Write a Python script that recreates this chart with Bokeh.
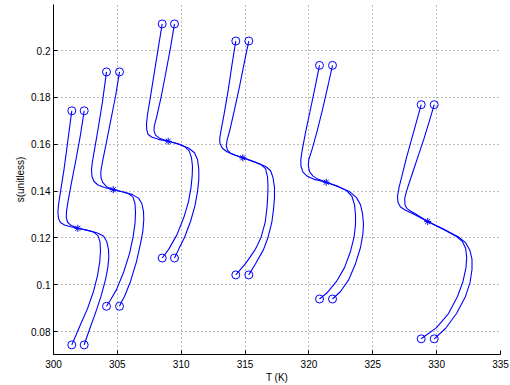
from bokeh.plotting import figure
from bokeh.models import FixedTicker, Range1d
from bokeh.embed import file_html
from bokeh.resources import INLINE

# ---- data (T in K, s unitless) ----
t1a = [301.433, 301.135, 300.822, 300.548, 300.392, 300.345, 300.392, 300.548, 300.861, 301.331, 301.903, 302.584, 303.132, 303.484, 303.641, 303.680, 303.625, 303.445, 303.132, 302.662, 302.114, 301.683, 301.433]
s1a = [0.1743, 0.1620, 0.1492, 0.1398, 0.1342, 0.1308, 0.1283, 0.1266, 0.1255, 0.1248, 0.1241, 0.1234, 0.1225, 0.1210, 0.1184, 0.1146, 0.1099, 0.1039, 0.0971, 0.0898, 0.0830, 0.0775, 0.0743]
t1b = [302.404, 302.114, 301.762, 301.409, 301.135, 301.018, 301.002, 301.096, 301.331, 301.903, 302.741, 303.445, 303.915, 304.173, 304.307, 304.330, 304.252, 304.072, 303.719, 303.289, 302.819, 302.545, 302.404]
s1b = [0.1743, 0.1641, 0.1535, 0.1436, 0.1355, 0.1313, 0.1287, 0.1268, 0.1255, 0.1241, 0.1231, 0.1221, 0.1208, 0.1184, 0.1150, 0.1116, 0.1073, 0.1022, 0.0950, 0.0880, 0.0809, 0.0766, 0.0743]

t2a = [304.150, 303.837, 303.484, 303.210, 303.038, 302.975, 303.015, 303.171, 303.484, 303.993, 304.675, 305.324, 305.873, 306.225, 306.381, 306.421, 306.381, 306.225, 305.951, 305.481, 304.933, 304.463, 304.150]
s2a = [0.1909, 0.1782, 0.1663, 0.1577, 0.1522, 0.1492, 0.1462, 0.1441, 0.1426, 0.1415, 0.1406, 0.1398, 0.1389, 0.1374, 0.1347, 0.1308, 0.1261, 0.1202, 0.1133, 0.1052, 0.0979, 0.0935, 0.0908]
t2b = [305.168, 304.855, 304.463, 304.111, 303.837, 303.704, 303.719, 303.837, 304.150, 304.675, 305.481, 306.186, 306.656, 306.914, 307.047, 307.070, 306.992, 306.812, 306.499, 306.029, 305.559, 305.324, 305.168]
s2b = [0.1909, 0.1804, 0.1697, 0.1599, 0.1526, 0.1483, 0.1458, 0.1438, 0.1419, 0.1406, 0.1396, 0.1385, 0.1370, 0.1347, 0.1313, 0.1278, 0.1227, 0.1176, 0.1099, 0.1014, 0.0950, 0.0926, 0.0908]

t3a = [308.511, 308.182, 307.830, 307.556, 307.360, 307.282, 307.298, 307.399, 307.673, 308.222, 308.981, 309.709, 310.257, 310.610, 310.805, 310.884, 310.860, 310.766, 310.571, 310.202, 309.670, 309.005, 308.511]
s3a = [0.2114, 0.2004, 0.1885, 0.1791, 0.1727, 0.1688, 0.1663, 0.1643, 0.1631, 0.1621, 0.1613, 0.1603, 0.1590, 0.1573, 0.1543, 0.1505, 0.1466, 0.1415, 0.1355, 0.1287, 0.1214, 0.1150, 0.1114]
t3b = [309.474, 309.161, 308.770, 308.417, 308.065, 307.893, 307.869, 307.987, 308.300, 308.981, 309.866, 310.571, 311.040, 311.275, 311.377, 311.377, 311.275, 311.079, 310.727, 310.257, 309.788, 309.474]
s3b = [0.2114, 0.2013, 0.1898, 0.1799, 0.1714, 0.1680, 0.1658, 0.1639, 0.1626, 0.1613, 0.1599, 0.1584, 0.1564, 0.1535, 0.1492, 0.1449, 0.1398, 0.1338, 0.1270, 0.1202, 0.1150, 0.1114]

t4a = [314.274, 313.977, 313.663, 313.350, 313.115, 313.013, 313.037, 313.209, 313.546, 314.117, 314.822, 315.582, 316.208, 316.600, 316.756, 316.795, 316.780, 316.717, 316.576, 316.247, 315.793, 315.034, 314.274]
s4a = [0.2041, 0.1940, 0.1825, 0.1727, 0.1658, 0.1624, 0.1603, 0.1584, 0.1569, 0.1555, 0.1542, 0.1528, 0.1515, 0.1496, 0.1462, 0.1424, 0.1385, 0.1330, 0.1266, 0.1202, 0.1150, 0.1090, 0.1042]
t4b = [315.292, 314.955, 314.564, 314.172, 313.820, 313.585, 313.530, 313.624, 313.859, 314.251, 314.822, 315.738, 316.576, 316.991, 317.187, 317.304, 317.304, 317.226, 317.093, 316.795, 316.443, 315.817, 315.292]
s4b = [0.2041, 0.1953, 0.1846, 0.1748, 0.1663, 0.1616, 0.1592, 0.1575, 0.1562, 0.1553, 0.1542, 0.1524, 0.1506, 0.1488, 0.1458, 0.1415, 0.1372, 0.1321, 0.1266, 0.1202, 0.1150, 0.1090, 0.1042]

t5a = [320.828, 320.475, 320.084, 319.732, 319.481, 319.364, 319.379, 319.536, 319.849, 320.436, 321.352, 322.237, 322.942, 323.373, 323.568, 323.647, 323.647, 323.529, 323.255, 322.785, 322.159, 321.454, 320.828]
s5a = [0.1937, 0.1842, 0.1740, 0.1650, 0.1577, 0.1535, 0.1505, 0.1481, 0.1464, 0.1450, 0.1438, 0.1421, 0.1402, 0.1377, 0.1342, 0.1300, 0.1257, 0.1202, 0.1142, 0.1073, 0.1014, 0.0967, 0.0939]
t5b = [321.846, 321.493, 321.063, 320.632, 320.241, 319.990, 319.951, 320.045, 320.319, 320.750, 321.352, 322.316, 323.177, 323.725, 324.038, 324.195, 324.273, 324.218, 324.038, 323.647, 323.122, 322.472, 321.846]
s5b = [0.1937, 0.1851, 0.1748, 0.1654, 0.1577, 0.1535, 0.1509, 0.1483, 0.1464, 0.1450, 0.1438, 0.1419, 0.1398, 0.1372, 0.1342, 0.1304, 0.1257, 0.1214, 0.1159, 0.1090, 0.1022, 0.0971, 0.0939]

t6a = [328.791, 328.423, 328.031, 327.640, 327.288, 327.053, 326.935, 326.974, 327.170, 327.522, 328.110, 329.300, 330.537, 331.555, 332.025, 332.275, 332.354, 332.299, 332.064, 331.633, 330.929, 329.989, 328.791]
s6a = [0.1769, 0.1697, 0.1620, 0.1543, 0.1466, 0.1415, 0.1377, 0.1351, 0.1332, 0.1319, 0.1304, 0.1270, 0.1236, 0.1206, 0.1184, 0.1155, 0.1116, 0.1073, 0.1014, 0.0950, 0.0877, 0.0817, 0.0769]
t6b = [329.809, 329.441, 329.010, 328.540, 328.071, 327.679, 327.499, 327.522, 327.679, 327.953, 328.423, 329.300, 330.537, 331.712, 332.260, 332.612, 332.769, 332.769, 332.612, 332.260, 331.555, 330.694, 329.809]
s6b = [0.1769, 0.1701, 0.1624, 0.1547, 0.1471, 0.1406, 0.1368, 0.1342, 0.1325, 0.1315, 0.1300, 0.1270, 0.1238, 0.1204, 0.1180, 0.1146, 0.1108, 0.1065, 0.1009, 0.0950, 0.0877, 0.0813, 0.0769]

star_t = [301.903, 304.675, 308.981, 314.822, 321.352, 329.300]
star_s = [0.1241, 0.1406, 0.1613, 0.1542, 0.1438, 0.1270]

xtick_vals = [300, 305, 310, 315, 320, 325, 330, 335]
ytick_vals = [0.08, 0.10, 0.12, 0.14, 0.16, 0.18, 0.20]
ytick_labels = ["0.08", "0.1", "0.12", "0.14", "0.16", "0.18", "0.2"]

curves = [(t1a, s1a), (t1b, s1b), (t2a, s2a), (t2b, s2b), (t3a, s3a), (t3b, s3b),
          (t4a, s4a), (t4b, s4b), (t5a, s5a), (t5b, s5b), (t6a, s6a), (t6b, s6b)]

BLUE = "#0000ff"
FONT = "Liberation Sans"

p = figure(width=510, height=385, output_backend="svg", toolbar_location=None,
           x_range=Range1d(300, 335), y_range=Range1d(0.0702, 0.2197),
           min_border_left=53, min_border_right=10, min_border_top=4, min_border_bottom=28)
p.outline_line_color = None
p.background_fill_color = "white"
p.border_fill_color = "white"

for t, s in curves:
    p.line(t, s, line_color=BLUE, line_width=1.1)

end_t = []
end_s = []
for t, s in curves:
    end_t += [t[0], t[-1]]
    end_s += [s[0], s[-1]]
p.scatter(end_t, end_s, marker="circle", size=8, fill_color=None, line_color=BLUE, line_width=1)
p.scatter(star_t, star_s, marker="asterisk", size=7, line_color=BLUE, line_width=1)

p.xaxis.ticker = FixedTicker(ticks=xtick_vals)
p.yaxis.ticker = FixedTicker(ticks=ytick_vals)
p.yaxis.major_label_overrides = {v: l for v, l in zip(ytick_vals, ytick_labels)}

for ax in (p.xaxis[0], p.yaxis[0]):
    ax.axis_line_color = "black"
    ax.axis_line_width = 1
    ax.major_tick_in = 4
    ax.major_tick_out = 0
    ax.minor_tick_line_color = None
    ax.major_tick_line_color = "black"
    ax.major_label_text_font = FONT
    ax.major_label_text_font_size = "10px"
    ax.major_label_text_color = "black"
    ax.axis_label_text_font = FONT
    ax.axis_label_text_font_size = "10px"
    ax.axis_label_text_font_style = "normal"
    ax.axis_label_text_color = "black"

p.xaxis.axis_label = "T (K)"
p.yaxis.axis_label = "s(unitless)"
p.xaxis.major_label_standoff = 5
p.yaxis.major_label_standoff = 3
p.xaxis.axis_label_standoff = 1
p.yaxis.axis_label_standoff = 2

for g in (p.xgrid[0], p.ygrid[0]):
    g.grid_line_color = "#555555"
    g.grid_line_dash = "1 3"
    g.grid_line_width = 1
    g.grid_line_alpha = 0.8

open("out.html", "w").write(file_html(p, INLINE))
